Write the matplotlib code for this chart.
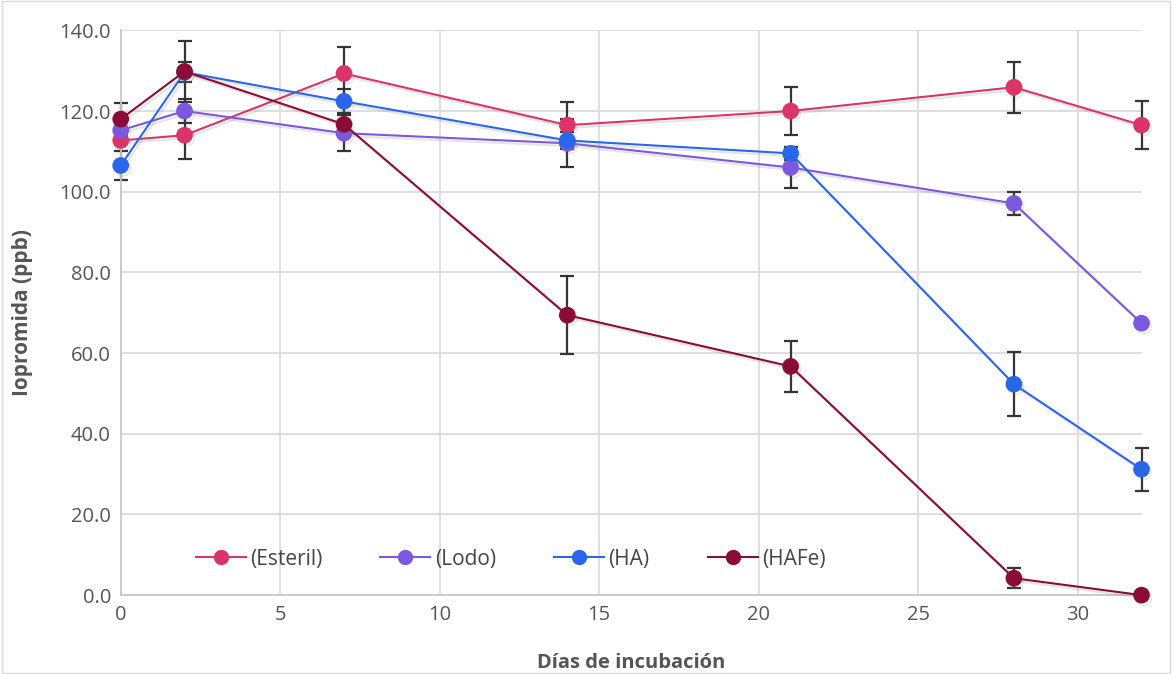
import numpy as np
import matplotlib.pyplot as plt
import matplotlib.patheffects as pe

# Data
dias = [0, 2, 7, 14, 21, 28, 32]

esteril = [112.7, 114.0, 129.3, 116.5, 120.0, 125.9, 116.5]
esteril_err = [0, 6.0, 6.5, 5.7, 6.0, 6.3, 5.9]

lodo = [115.2, 120.0, 114.5, 112.0, 106.0, 97.1, 67.4]
lodo_err = [0, 3.0, 4.5, 6.0, 5.0, 2.8, 0]

ha = [106.5, 129.6, 122.4, 112.7, 109.5, 52.3, 31.2]
ha_err = [3.5, 2.5, 3.0, 2.0, 1.7, 7.9, 5.3]

hafe = [118.0, 129.8, 116.7, 69.4, 56.7, 4.2, 0.0]
hafe_err = [4.0, 7.6, 2.5, 9.7, 6.3, 2.5, 0]

series = [
    ("(Esteril)", esteril, esteril_err, "#DA3468"),
    ("(Lodo)", lodo, lodo_err, "#7B58E0"),
    ("(HA)", ha, ha_err, "#2A66EA"),
    ("(HAFe)", hafe, hafe_err, "#8A0C36"),
]

plt.rcParams['font.family'] = ['Open Sans', 'DejaVu Sans']

fig = plt.figure(figsize=(11.72, 6.74), dpi=100)
ax = fig.add_axes([0.103, 0.117, 0.871, 0.838])

shadow = [pe.SimpleLineShadow(offset=(1.5, -2), shadow_color="gray", alpha=0.2), pe.Normal()]

for name, vals, err, col in series:
    eb = ax.errorbar(dias, vals, yerr=err, fmt="none", ecolor="#333338",
                     elinewidth=1.6, capsize=5, capthick=1.6, zorder=2)
    for art in eb.lines[1] + eb.lines[2]:
        art.set_clip_on(False)
lines = []
for name, vals, err, col in series:
    ln, = ax.plot(dias, vals, color=col, lw=1.5, marker="o", markersize=11,
                  markeredgecolor=col, markerfacecolor=col, label=name,
                  path_effects=shadow, zorder=3, clip_on=False)
    lines.append(ln)

ax.set_xlim(0, 32)
ax.set_ylim(0, 140)
ax.set_xticks(np.arange(0, 31, 5))
ax.set_yticks(np.arange(0, 141, 20))
ax.set_yticklabels([f"{v:.1f}" for v in np.arange(0, 141, 20)])
ax.grid(True, color="#DCDCDF", lw=1.3)
ax.set_axisbelow(True)
for s in ["top", "right"]:
    ax.spines[s].set_visible(False)
for s in ["left", "bottom"]:
    ax.spines[s].set_color("#C8C8CC")
    ax.spines[s].set_linewidth(1.3)
ax.tick_params(length=0, labelsize=14.5, labelcolor="#555555", pad=7)

ax.set_xlabel("Días de incubación", fontsize=14.5, fontweight="bold", color="#555555", labelpad=20)
ax.set_ylabel("Iopromida (ppb)", fontsize=15, fontweight="bold", color="#555555", labelpad=19)

leg = ax.legend(handles=[plt.Line2D([], [], color=l.get_color(), lw=1.5, marker="o", markersize=10)
                         for l in lines],
                labels=[s[0] for s in series],
                loc="lower left", bbox_to_anchor=(0.055, 0.012), ncol=4, frameon=False,
                fontsize=15, handlelength=2.4, columnspacing=2.8, handletextpad=0.2)
for t in leg.get_texts():
    t.set_color("#444450")

fig.patches.append(plt.Rectangle((0.002, 0.002), 0.996, 0.996, transform=fig.transFigure,
                                 fill=False, edgecolor="#D9D9D9", lw=1))

fig.savefig("out.png", dpi=100)
